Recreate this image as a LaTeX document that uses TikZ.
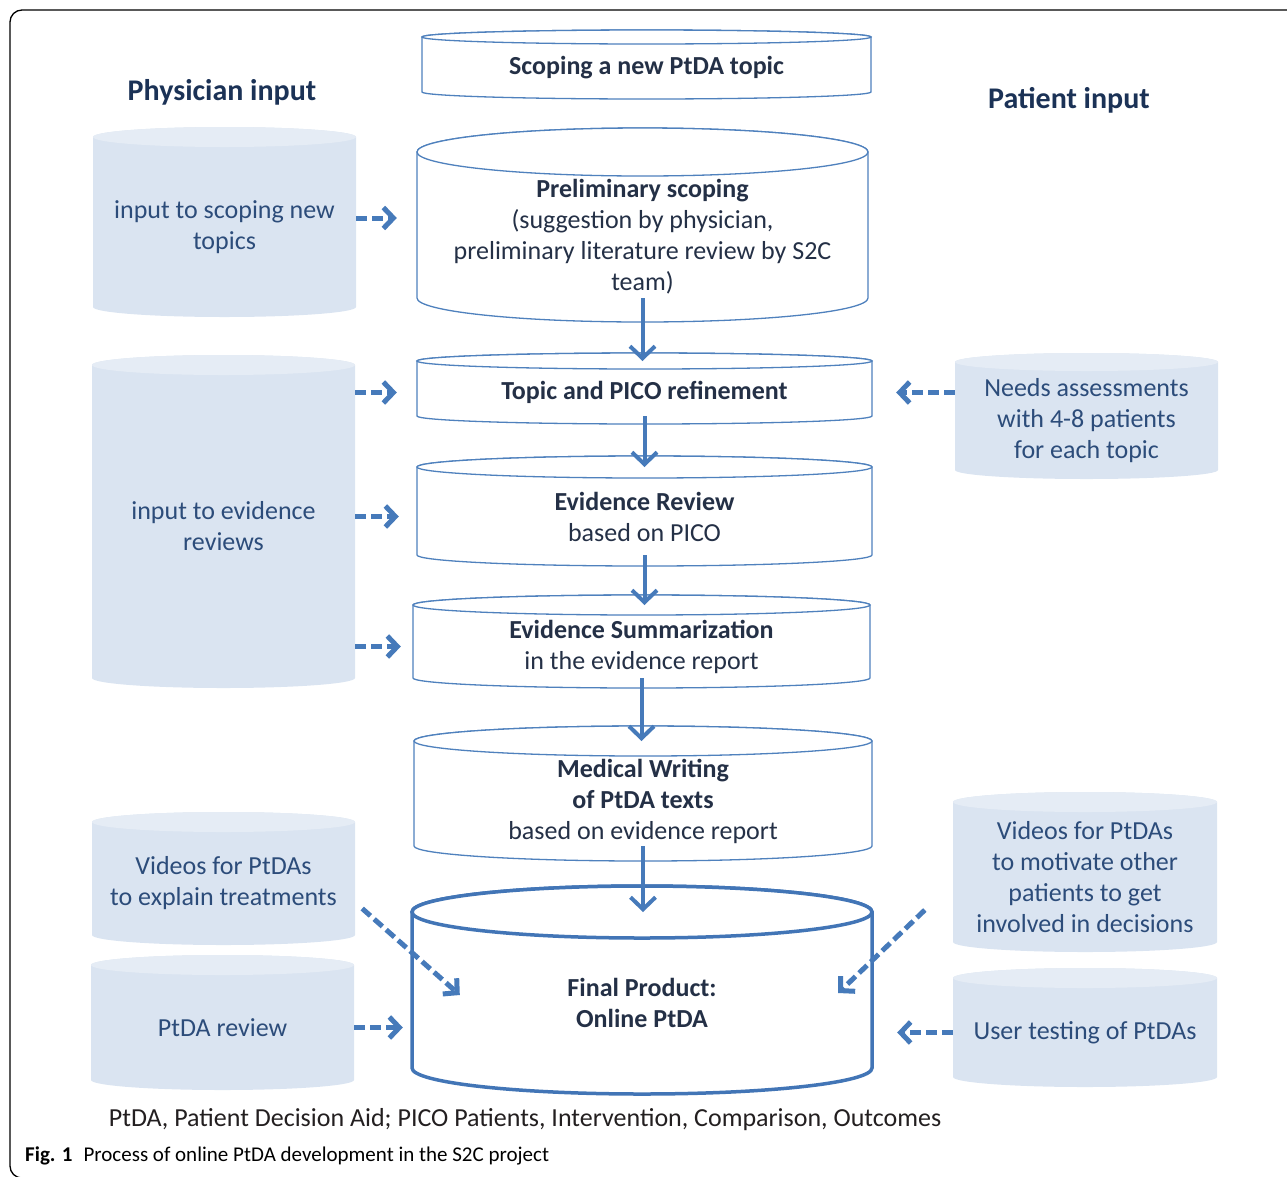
\documentclass[tikz,border=0pt]{standalone}
\usepackage{fontspec}
\setmainfont{Carlito}
\usepackage{tikz}
\usepackage{xcolor}
\usetikzlibrary{calc}
\usetikzlibrary{arrows.meta}
\usetikzlibrary{positioning}

\definecolor{edgeblue}{RGB}{79,129,189}
\definecolor{arrowblue}{RGB}{70,122,186}
\definecolor{finalblue}{RGB}{66,117,182}
\definecolor{inputfill}{RGB}{218,228,241}
\definecolor{inputlid}{RGB}{229,236,245}
\definecolor{stepink}{RGB}{36,48,70}
\definecolor{inputink}{RGB}{44,76,122}
\definecolor{headink}{RGB}{27,50,86}

% #1 name, #2 shape style, #3 label style, #4 left, #5 right, #6 lid y, #7 base y, #8 lid radius, #9 text
\newcommand{\drum}[9]{%
  \pgfmathsetmacro{\cx}{(#4+#5)/2}%
  \pgfmathsetmacro{\rx}{(#5-#4)/2}%
  \pgfmathsetmacro{\bw}{#5-#4}%
  \pgfmathsetmacro{\cy}{(#6-#8+(#7))/2}%
  \pgfmathsetmacro{\bh}{#6-#8-(#7)}%
  \path[#2] (#4,#6) -- (#4,#7) arc[start angle=180,end angle=360,x radius=\rx,y radius=#8]
    -- (#5,#6) arc[start angle=0,end angle=180,x radius=\rx,y radius=#8] -- cycle;
  \path[#2 lid] (\cx,#6) ellipse[x radius=\rx,y radius=#8];
  \coordinate (#1-lid) at (\cx,#6);
  \node[#3,minimum width=\bw,minimum height=\bh] (#1) at (\cx,\cy) {#9};
}

\begin{document}
\begin{tikzpicture}[x=1pt,y=1pt,
	drum/.style={draw=edgeblue, line width=1.3, fill=white},
	drum lid/.style={draw=edgeblue, line width=1.3, fill=white},
	goal/.style={draw=finalblue, line width=3.5, fill=white},
	goal lid/.style={draw=finalblue, line width=3.5, fill=white},
	inbox/.style={fill=inputfill},
	inbox lid/.style={fill=inputlid},
	steplabel/.style={inner sep=0, align=center, text=stepink, font=\fontsize{26}{31}\selectfont},
	inlabel/.style={inner sep=0, align=center, text=inputink, font=\fontsize{26}{31}\selectfont},
	head/.style={text=headink, font=\fontsize{30}{36}\selectfont\bfseries},
	flow/.style={draw=arrowblue, line width=4, -{Straight Barb[length=12pt,width=25pt]}},
	feed/.style={draw=arrowblue, line width=5, dash pattern=on 11pt off 5pt, -{Straight Barb[length=10pt,width=21pt]}}]

\useasboundingbox (0,0) rectangle (1287,-1176);

% Frame of the figure
\draw[line width=1.3, rounded corners=12] (1300,-10) -- (10,-10) -- (10,-1178) -- (1300,-1178);

\node[head] (phys) at (222,-92) {Physician input};
\node[head] (pat) at (1069,-100) {Patient input};

% Define the steps in the middle column
\drum{scope}{drum}{steplabel}{422}{871}{-37}{-92}{7}{\textbf{Scoping a new PtDA topic}}
\drum{prelim}{drum}{steplabel}{417}{868}{-152}{-298}{24}{\textbf{Preliminary scoping}\\(suggestion by physician,\\preliminary literature review by S2C\\team)}
\drum{topic}{drum}{steplabel}{417}{872}{-361}{-416}{8}{\textbf{Topic and PICO refinement}}
\drum{review}{drum}{steplabel}{417}{872}{-467}{-555}{11}{\textbf{Evidence Review}\\based on PICO}
\drum{summary}{drum}{steplabel}{413}{870}{-605}{-678}{10}{\textbf{Evidence Summarization}\\in the evidence report}
\drum{writing}{drum}{steplabel}{414}{872}{-741}{-846}{15}{\textbf{Medical Writing}\\\textbf{of PtDA texts}\\based on evidence report}
\drum{final}{goal}{steplabel}{412}{872}{-912}{-1068}{26}{\textbf{Final Product:}\\\textbf{Online PtDA}}

% Physician input
\drum{scopein}{inbox}{inlabel}{93}{356}{-137}{-307}{10}{input to scoping new\\topics}
\drum{evidin}{inbox}{inlabel}{92}{355}{-365}{-678}{10}{input to evidence\\reviews}
\drum{vidphys}{inbox}{inlabel}{92}{355}{-822}{-935}{10}{Videos for PtDAs\\to explain treatments}
\drum{ptdarev}{inbox}{inlabel}{91}{354}{-965}{-1080}{10}{PtDA review}

% Patient input
\drum{needs}{inbox}{inlabel}{955}{1218}{-362}{-470}{9}{Needs assessments\\with 4-8 patients\\for each topic}
\drum{vidpat}{inbox}{inlabel}{953}{1217}{-802}{-942}{10}{Videos for PtDAs\\to motivate other\\patients to get\\involved in decisions}
\drum{usertest}{inbox}{inlabel}{953}{1217}{-978}{-1077}{10}{User testing of PtDAs}

% Main flow
\draw[flow] (prelim.south) -- (prelim.south |- topic-lid);
\draw[flow] (topic.south) -- (topic.south |- review-lid);
\draw[flow] (review.south) -- (review.south |- summary-lid);
\draw[flow] (summary.south) -- (summary.south |- writing-lid);
\draw[flow] (writing.south) -- (writing.south |- final-lid);

% Inputs
\draw[feed] ($(scopein.east)+(0,9)$) -- ($(scopein.east -| prelim.west)+(-20,9)$);
\draw[feed, shorten >=20] (evidin.east |- topic) -- (topic);
\draw[feed, shorten >=18] (evidin.east |- review) -- (review);
\draw[feed, shorten >=12] (evidin.east |- summary) -- (summary);
\draw[feed, shorten >=24] (needs.west |- topic) -- (topic);
\draw[feed] ([shift={(7,-25)}]vidphys.east) -- ([shift={(48,8)}]final.west);
\draw[feed, shorten >=9] (ptdarev.east) -- (ptdarev.east -| final.west);
\draw[feed] ([shift={(-28,-33)}]vidpat.west) -- ([shift={(-34,10)}]final.east);
\draw[feed, shorten >=25] (usertest.west) -- (usertest.west -| final.east);

\node[text={rgb,255:red,35;green,31;blue,32}, font=\fontsize{26}{30}\selectfont] (abbr) at (525,-1120) {PtDA, Patient Decision Aid; PICO Patients, Intervention, Comparison, Outcomes};
\node[anchor=west, inner sep=0, font=\fontsize{21}{24}\selectfont] (fig) at (25,-1156) {\textbf{Fig. 1}\hspace{11pt}Process of online PtDA development in the S2C project};

\end{tikzpicture}
\end{document}
